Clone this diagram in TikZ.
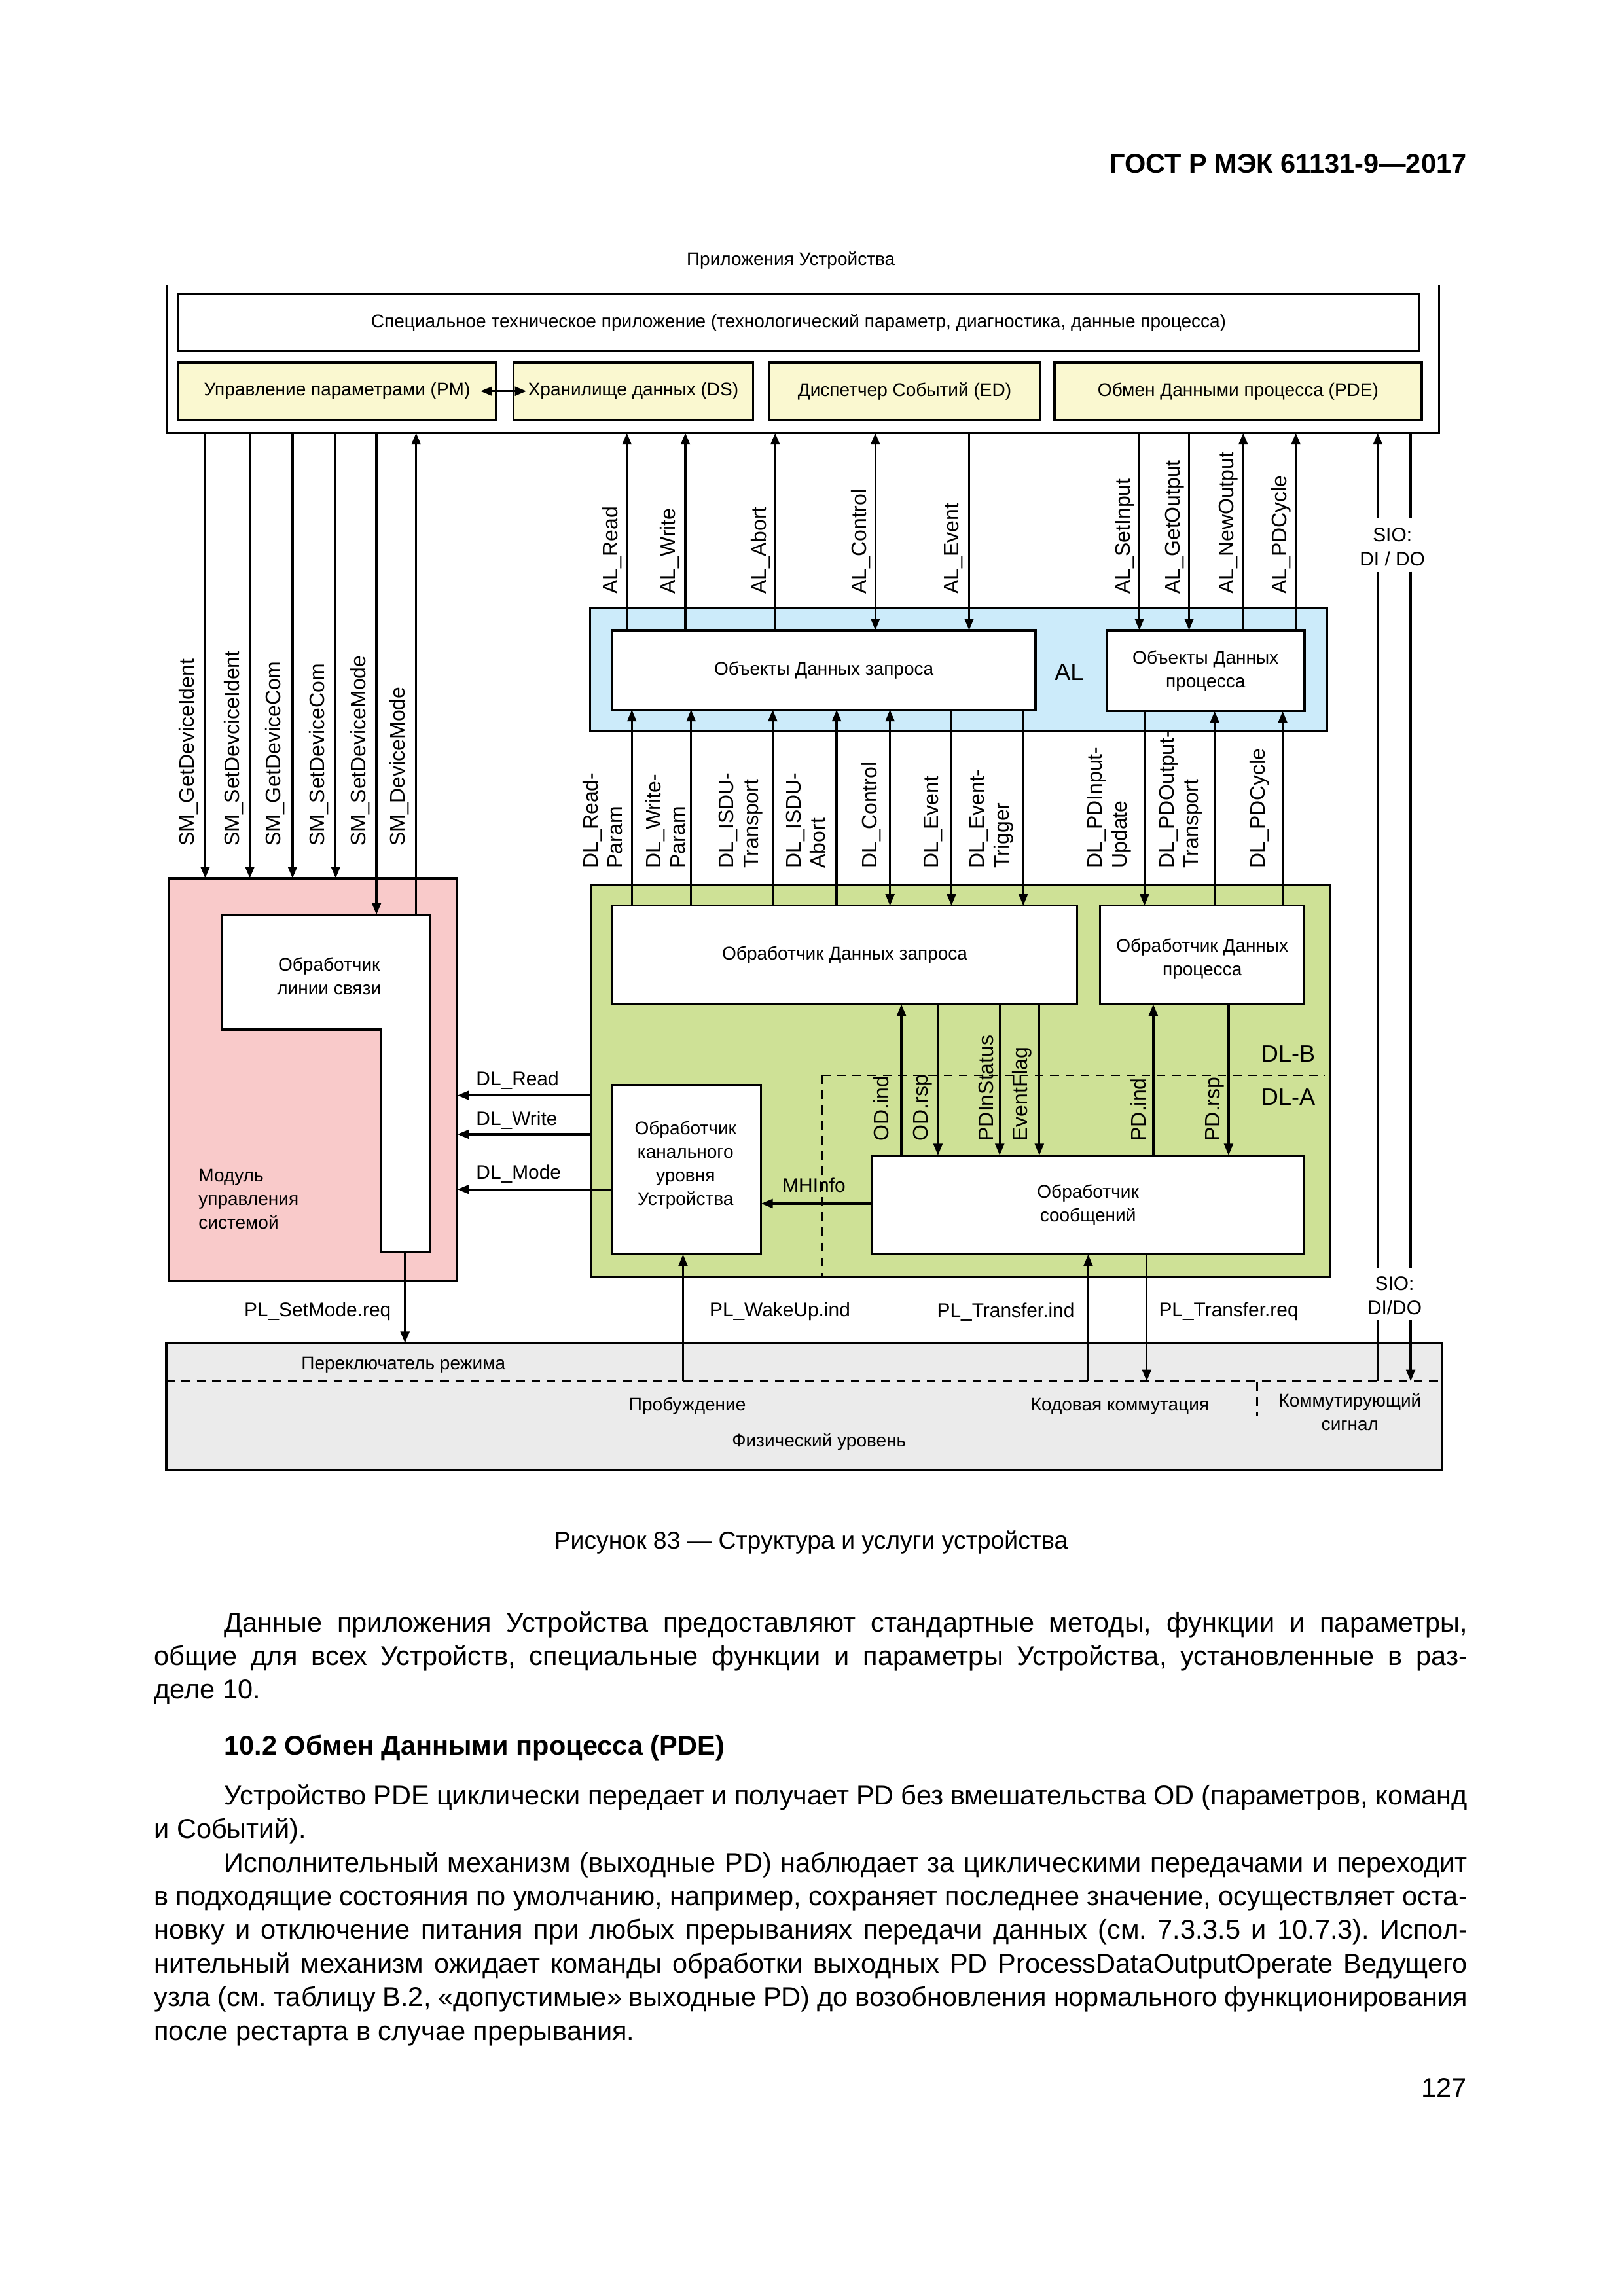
\documentclass[tikz,border=0pt]{standalone}
\usepackage{fontspec}
\setmainfont{Liberation Sans}
\usetikzlibrary{arrows.meta}
\frenchspacing
\definecolor{yelc}{RGB}{250,248,208}
\definecolor{bluc}{RGB}{204,235,250}
\definecolor{grnc}{RGB}{206,225,150}
\definecolor{pnkc}{RGB}{249,202,202}
\definecolor{gryc}{RGB}{235,235,235}
\newcommand{\cfont}{\fontsize{6.75pt}{8.7pt}\selectfont}
\newcommand{\dfont}{\fontsize{7.2pt}{8.7pt}\selectfont}
\newcommand{\rfont}{\fontsize{7.7pt}{9pt}\selectfont}
\newcommand{\bigfont}{\fontsize{8.7pt}{10pt}\selectfont}
\newcommand{\tfont}{\fontsize{10pt}{12.3pt}\selectfont\frenchspacing}
\newcommand{\mybox}[7]{\node[#6, minimum width={(#4-#2)*0.018919cm}, minimum height={(#5-#3)*0.018919cm}] (#1) at ({(#2+#4)/2},{(#3+#5)/2}) {#7};}
\newcommand{\vc}[4]{\path (#1,0) coordinate (vx); \draw[#4] (vx |- #2) -- (vx |- #3);}
\newcommand{\hc}[4]{\path (0,#1) coordinate (hy); \draw[#4] (hy -| #2) -- (hy -| #3);}
\newcommand{\jline}[4]{\pgfmathsetlengthmacro{\jw}{(1003-#2)*0.018919cm}\node[txt] (#1) at (#2,#3) {\makebox[\jw][s]{#4}};}
\begin{document}
\begin{tikzpicture}[x=0.018919cm, y=-0.018919cm,
  box/.style={draw, line width=0.8pt, inner sep=0pt, outer sep=0pt, align=center, font=\cfont},
  ghost/.style={inner sep=0pt, outer sep=0pt},
  arr/.style={line width=0.8pt, -{Triangle[length=1.5mm,width=1.15mm]}},
  barr/.style={line width=0.8pt, {Triangle[length=1.5mm,width=1.15mm]}-{Triangle[length=1.5mm,width=1.15mm]}},
  ln/.style={line width=0.8pt},
  dsh/.style={line width=0.7pt, dash pattern=on 3.2pt off 2.4pt},
  lbl/.style={font=\cfont, inner sep=0pt, align=center},
  llbl/.style={font=\dfont, inner sep=0pt, align=center},
  rot/.style={font=\rfont, inner sep=0pt, rotate=90, anchor=west, align=left},
  txt/.style={font=\tfont, inner sep=0pt, anchor=base west}]
\fill[white] (0,0) rectangle (1110,1570);
\useasboundingbox (0,0) rectangle (1110,1570);

% ---------- page text ----------
\node[font=\fontsize{10pt}{12pt}\selectfont\bfseries, inner sep=0pt, anchor=base east] (hdr) at (1003,118.5) {ГОСТ Р МЭК 61131-9—2017};

% ---------- application ----------
\node[lbl] (apptitle) at (540.7,178) {Приложения Устройства};
\mybox{app}{114}{195}{984}{296}{ghost}{}
\draw[ln] (app.north west) -- (app.south west) -- (app.south east) -- (app.north east);
\mybox{spec}{122}{201}{970}{240}{box}{Специальное техническое приложение (технологический параметр, диагностика, данные процесса)}
\mybox{PM}{122}{248}{339}{287}{box,fill=yelc}{Управление параметрами (PM)}
\mybox{DS}{351}{248}{515}{287}{box,fill=yelc}{Хранилище данных (DS)}
\mybox{ED}{526}{248}{711}{287}{box,fill=yelc}{Диспетчер Событий (ED)}
\mybox{PDE}{721}{248}{972}{287}{box,fill=yelc}{Обмен Данными процесса (PDE)}
\path (328.5,0) coordinate (pmA) (360,0) coordinate (dsA);
\draw[barr] (pmA |- PM.east) -- (dsA |- DS.west);

% ---------- AL ----------
\mybox{AL}{403.6}{415.5}{907.4}{499.6}{box,fill=bluc}{}
\mybox{ODR}{418.6}{431}{708}{485.3}{box,fill=white}{Объекты Данных запроса}
\mybox{ODP}{756.5}{431}{892}{486.3}{box,fill=white}{Объекты Данных\\процесса}
\node[font=\bigfont, inner sep=0pt] (ALlbl) at (731,459.6) {AL};

% ---------- DL ----------
\mybox{DL}{404}{605}{909.2}{873}{box,fill=grnc}{}
\mybox{RH}{418.8}{619.3}{736.4}{686.7}{box,fill=white}{Обработчик Данных запроса}
\mybox{PH}{752}{619.3}{891.4}{686.7}{box,fill=white}{}
\node[lbl] (PHt) at (822,655.7) {Обработчик Данных\\процесса};
\mybox{CH}{418.8}{741.7}{520.4}{857.7}{box,fill=white}{}
\node[lbl] (CHt) at (468.7,796.7) {Обработчик\\канального\\уровня\\Устройства};
\mybox{MH}{596.3}{790}{891.4}{857.7}{box,fill=white}{Обработчик\\сообщений}
\draw[dsh] (562,735.3) -- (905.6,735.3);
\draw[dsh] (562,735.3) -- (562,873);
\node[font=\bigfont, inner sep=0pt] (DLB) at (880.8,720.4) {DL-B};
\node[font=\bigfont, inner sep=0pt] (DLA) at (880.8,750) {DL-A};

% ---------- system management ----------
\mybox{SM}{115.8}{600.6}{312.7}{876}{box,fill=pnkc}{}
\node[lbl, anchor=west, align=left] (SMt) at (135.4,820) {Модуль\\управления\\системой};
\draw[line width=0.8pt, fill=white] (151.8,625.4) -- (293.9,625.4) -- (293.9,856.4) -- (260.7,856.4) -- (260.7,704) -- (151.8,704) -- cycle;
\mybox{LH}{151.8}{625.4}{293.9}{704}{ghost}{}
\mybox{LHs}{260.7}{704}{293.9}{856.4}{ghost}{}
\node[lbl] (LHt) at (225,667.4) {Обработчик\\линии связи};

% ---------- physical layer ----------
\mybox{PL}{113.7}{918.4}{985.7}{1005.3}{box,fill=gryc}{}
\coordinate (pld) at (0,944.5);
\draw[dsh] (PL.west |- pld) -- (PL.east |- pld);
\draw[dsh] (859.5,945) -- (859.5,968.6);
\node[lbl] (PLa) at (275.8,933.3) {Переключатель режима};
\node[lbl] (PLb) at (470,961.6) {Пробуждение};
\node[lbl] (PLc) at (765.7,961.6) {Кодовая коммутация};
\node[lbl] (PLd) at (923,965.3) {Коммутирующий\\сигнал};
\node[lbl] (PLe) at (560,986) {Физический уровень};

% ---------- connectors: application <-> SM ----------
\vc{140.3}{app.south}{SM.north}{arr}
\vc{170.8}{app.south}{SM.north}{arr}
\vc{200}{app.south}{SM.north}{arr}
\vc{229.5}{app.south}{SM.north}{arr}
\vc{257.4}{app.south}{LH.north}{arr}
\vc{284.5}{LH.north}{app.south}{arr}
% AL
\vc{428.6}{ODR.north}{app.south}{arr}
\vc{468.6}{ODR.north}{app.south}{arr}
\vc{530}{ODR.north}{app.south}{arr}
\vc{598.5}{ODR.north}{app.south}{barr}
\vc{662.6}{app.south}{ODR.north}{arr}
\vc{779}{app.south}{ODP.north}{arr}
\vc{813}{app.south}{ODP.north}{arr}
\vc{850}{ODP.north}{app.south}{arr}
\vc{886}{ODP.north}{app.south}{arr}
% SIO
\coordinate (sa) at (0,354.4);
\coordinate (sb) at (0,391);
\coordinate (sc) at (0,867);
\coordinate (sd) at (0,902.7);
\vc{942}{pld}{sd}{ln}
\vc{942}{sc}{sb}{ln}
\vc{942}{sa}{app.south}{arr}
\vc{964.5}{app.south}{sa}{ln}
\vc{964.5}{sb}{sc}{ln}
\vc{964.5}{sd}{pld}{arr}
% DL <-> AL
\vc{432}{RH.north}{ODR.south}{arr}
\vc{472.5}{RH.north}{ODR.south}{arr}
\vc{528.3}{RH.north}{ODR.south}{arr}
\vc{572}{RH.north}{ODR.south}{arr}
\vc{608.5}{RH.north}{ODR.south}{barr}
\vc{650.5}{ODR.south}{RH.north}{arr}
\vc{699.6}{ODR.south}{RH.north}{arr}
\vc{782.5}{ODP.south}{PH.north}{arr}
\vc{830.5}{PH.north}{ODP.south}{arr}
\vc{877}{PH.north}{ODP.south}{arr}
% inside DL
\vc{616.3}{MH.north}{RH.south}{arr}
\vc{641.3}{RH.south}{MH.north}{arr}
\vc{683.5}{RH.south}{MH.north}{arr}
\vc{710.6}{RH.south}{MH.north}{arr}
\vc{788.5}{MH.north}{PH.south}{arr}
\vc{840}{PH.south}{MH.north}{arr}
\hc{823}{MH.west}{CH.east}{arr}
\hc{749}{DL.west}{SM.east}{arr}
\hc{775.6}{DL.west}{SM.east}{arr}
\hc{813.3}{CH.west}{SM.east}{arr}
% bottom
\vc{276.9}{LHs.south}{PL.north}{arr}
\vc{467}{pld}{CH.south}{arr}
\vc{744}{pld}{MH.south}{arr}
\vc{784}{MH.south}{pld}{arr}

% ---------- rotated labels ----------
\node[rot] (l1) at (129,579) {SM\_GetDeviceIdent};
\node[rot] (l2) at (159.7,579) {SM\_SetDevciceIdent};
\node[rot] (l3) at (188,579) {SM\_GetDeviceCom};
\node[rot] (l4) at (217.8,579) {SM\_SetDeviceCom};
\node[rot] (l5) at (246,579) {SM\_SetDeviceMode};
\node[rot] (l6) at (273,579) {SM\_DeviceMode};
\node[rot] (a1) at (418.6,406.5) {AL\_Read};
\node[rot] (a2) at (458,406.5) {AL\_Write};
\node[rot] (a3) at (520,406.5) {AL\_Abort};
\node[rot] (a4) at (588.6,406.5) {AL\_Control};
\node[rot] (a5) at (652,406.5) {AL\_Event};
\node[rot] (a6) at (769,406.5) {AL\_SetInput};
\node[rot] (a7) at (803,406.5) {AL\_GetOutput};
\node[rot] (a8) at (840,406.5) {AL\_NewOutput};
\node[rot] (a9) at (876,406.5) {AL\_PDCycle};
\node[rot] (d1) at (412,594) {DL\_Read-\\Param};
\node[rot] (d2) at (455,594) {DL\_Write-\\Param};
\node[rot] (d3) at (506.5,594) {DL\_ISDU-\\Transport};
\node[rot] (d4) at (550.8,594) {DL\_ISDU-\\Abort};
\node[rot] (d5) at (595.6,594) {DL\_Control};
\node[rot] (d6) at (638,594) {DL\_Event};
\node[rot] (d7) at (678,594) {DL\_Event-\\Trigger};
\node[rot] (d8) at (758.5,594) {DL\_PDInput-\\Update};
\node[rot] (d9) at (807.5,594) {DL\_PDOutput-\\Transport};
\node[rot] (d10) at (861,594) {DL\_PDCycle};
\node[rot] (o1) at (602.6,780.6) {OD.ind};
\node[rot] (o2) at (630.7,780.6) {OD.rsp};
\node[rot] (o3) at (674,780.6) {PDInStatus};
\node[rot] (o4) at (698.6,780.6) {EventFlag};
\node[rot] (o5) at (778.5,780.6) {PD.ind};
\node[rot] (o6) at (830.6,780.6) {PD.rsp};

% ---------- horizontal labels ----------
\node[llbl, anchor=west] (h1) at (325.2,738.6) {DL\_Read};
\node[llbl, anchor=west] (h2) at (325.2,766) {DL\_Write};
\node[llbl, anchor=west] (h3) at (325.2,802.6) {DL\_Mode};
\node[llbl] (h4) at (556.5,810.5) {MHInfo};
\node[llbl, anchor=east] (b1) at (267.7,897) {PL\_SetMode.req};
\node[llbl, anchor=west] (b2) at (484.8,897) {PL\_WakeUp.ind};
\node[llbl, anchor=east] (b3) at (735,897) {PL\_Transfer.ind};
\node[llbl, anchor=west] (b4) at (792,897) {PL\_Transfer.req};
\node[llbl] (s1) at (952,374) {SIO:\\DI / DO};
\node[llbl] (s2) at (953.5,886) {SIO:\\DI/DO};

% ---------- caption and body ----------
\node[font=\fontsize{9pt}{11pt}\selectfont, inner sep=0pt, anchor=base] (cap) at (554.5,1059.3) {Рисунок 83 — Структура и услуги устройства};
\jline{p1a}{153}{1115.8}{Данные приложения Устройства предоставляют стандартные методы, функции и параметры,}
\jline{p1b}{105}{1138.7}{общие для всех Устройств, специальные функции и параметры Устройства, установленные в раз-}
\node[txt] (p1c) at (105,1161.6) {деле 10.};
\node[txt, font=\tfont\bfseries] (hd) at (153,1200) {10.2 Обмен Данными процесса (PDE)};
\jline{p2a}{153}{1234}{Устройство PDE циклически передает и получает PD без вмешательства OD (параметров, команд}
\node[txt] (p2b) at (105,1257) {и Событий).};
\jline{p3a}{153}{1280}{Исполнительный механизм (выходные PD) наблюдает за циклическими передачами и переходит}
\jline{p3b}{105}{1303}{в подходящие состояния по умолчанию, например, сохраняет последнее значение, осуществляет оста-}
\jline{p3c}{105}{1326}{новку и отключение питания при любых прерываниях передачи данных (см. 7.3.3.5 и 10.7.3). Испол-}
\jline{p3d}{105}{1349}{нительный механизм ожидает команды обработки выходных PD ProcessDataOutputOperate Ведущего}
\jline{p3e}{105}{1372}{узла (см. таблицу В.2, «допустимые» выходные PD) до возобновления нормального функционирования}
\node[txt] (p3f) at (105,1395) {после рестарта в случае прерывания.};
\node[txt, anchor=base east] (pg) at (1003,1434) {127};
\end{tikzpicture}
\end{document}
